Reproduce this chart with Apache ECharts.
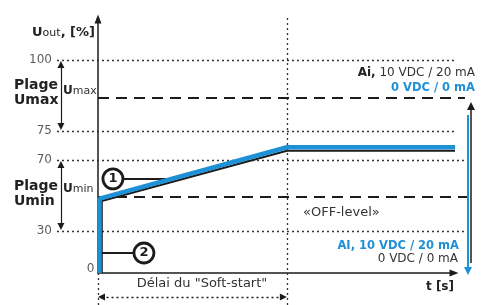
<!DOCTYPE html>
<html>
<head>
    <meta charset="utf-8" />
    <title>Soft-start</title>
    <script src="https://cdn.jsdelivr.net/npm/echarts@6/dist/echarts.min.js"></script>
    <style>
        html, body { margin: 0; padding: 0; background: #fff; }
        #main { width: 486px; height: 305px; }
    </style>
</head>
<body>
<div id="main"></div>
<script type="text/javascript">
    // niveaux de l'axe Uout [%]
    var yTicks = [0, 30, 70, 75, 100];
    var yTickLabels = ['0', '30', '70', '75', '100'];
    var uMax = 86.6;
    var uMin = 49.2;
    // temps : 0 -> fin du soft-start (1) -> fin du trace
    var tSoft = 1;
    var tEnd = 1.89;
    // courbe 1 (noir) et courbe 2 (bleu)
    var curve1 = [[0.02, 0], [0.02, 46.9], [1, 71.6], [1.89, 71.6]];
    var curve2 = [[0.008, 0], [0.008, 48.2], [1, 72.2], [1.89, 72.2]];
    var markers = [{ name: '1', value: [0.079, 59.4] }, { name: '2', value: [0.243, 14.3] }];

    var BLUE = '#1e90d6';
    var INK = '#1c1c1c';
    var FONT = '"DejaVu Sans", Verdana, sans-serif';

    // echelle schematique : hauteur (px au-dessus de l'axe t) de chaque niveau
    var levelPos = [0, 42, 113, 142, 213];

    function yPos(v) {
        var n = yTicks.length, i = 0;
        if (v > yTicks[n - 1]) i = n - 2;
        else { while (i < n - 2 && v > yTicks[i + 1]) i++; }
        var k = (levelPos[i + 1] - levelPos[i]) / (yTicks[i + 1] - yTicks[i]);
        return levelPos[i] + (v - yTicks[i]) * k;
    }
    function pt(p) { return [p[0], yPos(p[1])]; }
    function seg(a, b) { return { coords: [pt(a), pt(b)] }; }

    var gridSegs = [];
    for (var i = 1; i < yTicks.length; i++) {
        var xr = yTicks[i] >= 75 ? 1.89 : 1.94;
        gridSegs.push(seg([-0.217, yTicks[i]], [xr, yTicks[i]]));
    }
    gridSegs.push(seg([tSoft, -22.9], [tSoft, 115.8]));
    gridSegs.push(seg([0, 0], [0, -22.9]));

    var tickData = [];
    for (var j = 0; j < yTicks.length; j++) {
        if (yTicks[j] === 0) {
            tickData.push({ name: yTickLabels[j], value: [0, yPos(0)], label: { offset: [0, -4] } });
        } else {
            tickData.push({ name: yTickLabels[j], value: [-0.225, yPos(yTicks[j])] });
        }
    }

    var option = {
        backgroundColor: '#fff',
        animation: false,
        grid: { left: 98, right: 32, top: 19, bottom: 32 },
        xAxis: {
            type: 'value', min: 0, max: 1.884,
            axisLine: { show: true, symbol: ['none', 'triangle'], symbolSize: [7, 9],
                lineStyle: { color: INK, width: 1.5 } },
            axisTick: { show: false }, axisLabel: { show: false }, splitLine: { show: false }
        },
        yAxis: {
            type: 'value', min: 0, max: 254,
            axisLine: { show: true, symbol: ['none', 'triangle'], symbolSize: [7, 9],
                lineStyle: { color: INK, width: 1.5 } },
            axisTick: { show: false }, axisLabel: { show: false }, splitLine: { show: false }
        },
        series: [
            { // pointilles
                type: 'lines', coordinateSystem: 'cartesian2d', clip: false, silent: true, z: 1,
                lineStyle: { color: '#333', width: 1.3, type: [2, 3], opacity: 1 },
                data: gridSegs
            },
            { // Umax / Umin
                type: 'lines', coordinateSystem: 'cartesian2d', clip: false, silent: true, z: 2,
                lineStyle: { color: INK, width: 2, type: [11, 7], opacity: 1 },
                data: [seg([0, uMax], [1.942, uMax]), seg([0, uMin], [1.968, uMin])]
            },
            { // plages
                type: 'lines', coordinateSystem: 'cartesian2d', clip: false, silent: true, z: 2,
                symbol: ['triangle', 'triangle'], symbolSize: 7,
                lineStyle: { color: INK, width: 1.2, opacity: 1 },
                data: [seg([-0.196, 98.4], [-0.196, 76.6]), seg([-0.196, 67.5], [-0.196, 32.5])]
            },
            { // delai du soft-start
                type: 'lines', coordinateSystem: 'cartesian2d', clip: false, silent: true, z: 2,
                symbol: ['triangle', 'triangle'], symbolSize: 7,
                lineStyle: { color: INK, width: 1.3, type: [2, 3], opacity: 1 },
                data: [seg([0.0185, -17.1], [0.981, -17.1])]
            },
            {
                type: 'lines', coordinateSystem: 'cartesian2d', clip: false, silent: true, z: 2,
                symbol: ['none', 'triangle'], symbolSize: 8,
                lineStyle: { color: INK, width: 1.5, opacity: 1 },
                data: [seg([1.974, 7.1], [1.974, 83.8])]
            },
            {
                type: 'lines', coordinateSystem: 'cartesian2d', clip: false, silent: true, z: 2,
                symbol: ['none', 'triangle'], symbolSize: 8,
                lineStyle: { color: BLUE, width: 2, opacity: 1 },
                data: [seg([1.958, 80.6], [1.958, 1.4])]
            },
            { // reperes 1 et 2
                type: 'lines', coordinateSystem: 'cartesian2d', clip: false, silent: true, z: 3,
                lineStyle: { color: INK, width: 2, opacity: 1 },
                data: [seg([0.079, 59.6], [0.38, 59.6]), seg([0.02, 14.3], [0.243, 14.3])]
            },
            {
                type: 'line', data: curve1.map(pt), clip: false, silent: true, z: 4,
                symbol: 'none', lineStyle: { color: INK, width: 2 }
            },
            {
                type: 'line', data: curve2.map(pt), clip: false, silent: true, z: 5,
                symbol: 'none', lineStyle: { color: BLUE, width: 4.5 }
            },
            {
                type: 'scatter', clip: false, silent: true, z: 6,
                data: markers.map(function (m) { return { name: m.name, value: pt(m.value) }; }),
                symbolSize: 20,
                itemStyle: { color: '#fff', borderColor: INK, borderWidth: 2.8, opacity: 1 },
                label: { show: true, position: 'inside', formatter: '{b}', color: INK,
                    fontFamily: FONT, fontWeight: 'bold', fontSize: 13 }
            },
            {
                type: 'scatter', clip: false, silent: true, z: 6,
                data: tickData, symbolSize: 1,
                itemStyle: { color: 'rgba(0,0,0,0)' },
                label: { show: true, position: 'left', distance: 3, formatter: '{b}',
                    color: '#333', fontFamily: FONT, fontSize: 12 }
            }
        ],
        graphic: [
            { type: 'text', x: 95, y: 33, style: { text: '{b|U}{n|out}{b|, [%]}', align: 'right', verticalAlign: 'middle',
                rich: { b: { fontFamily: FONT, fontWeight: 'bold', fontSize: 13, fill: '#222' },
                        n: { fontFamily: FONT, fontSize: 11, fill: '#222' } } } },
            { type: 'text', x: 14, y: 93, style: { text: 'Plage\nUmax', align: 'left', verticalAlign: 'middle',
                font: 'bold 14px ' + FONT, fill: '#222', lineHeight: 15 } },
            { type: 'text', x: 14, y: 194, style: { text: 'Plage\nUmin', align: 'left', verticalAlign: 'middle',
                font: 'bold 14px ' + FONT, fill: '#222', lineHeight: 15 } },
            { type: 'text', x: 63, y: 91, style: { text: '{b|U}{n|max}', align: 'left', verticalAlign: 'middle',
                rich: { b: { fontFamily: FONT, fontWeight: 'bold', fontSize: 12, fill: '#222' },
                        n: { fontFamily: FONT, fontSize: 11, fill: '#333' } } } },
            { type: 'text', x: 63, y: 189, style: { text: '{b|U}{n|min}', align: 'left', verticalAlign: 'middle',
                rich: { b: { fontFamily: FONT, fontWeight: 'bold', fontSize: 12, fill: '#222' },
                        n: { fontFamily: FONT, fontSize: 11, fill: '#333' } } } },
            { type: 'text', x: 475, y: 73, style: { text: '{b|Ai,}{n| 10 VDC / 20 mA}', align: 'right', verticalAlign: 'middle',
                rich: { b: { fontFamily: FONT, fontWeight: 'bold', fontSize: 12, fill: '#222' },
                        n: { fontFamily: FONT, fontSize: 12, fill: '#333' } } } },
            { type: 'text', x: 475, y: 88, style: { text: '0 VDC / 0 mA', align: 'right', verticalAlign: 'middle',
                font: 'bold 11.5px ' + FONT, fill: BLUE } },
            { type: 'text', x: 303, y: 213, style: { text: '«OFF-level»', align: 'left', verticalAlign: 'middle',
                font: '13px ' + FONT, fill: '#333' } },
            { type: 'text', x: 459, y: 246, style: { text: 'AI, 10 VDC / 20 mA', align: 'right', verticalAlign: 'middle',
                font: 'bold 11.5px ' + FONT, fill: BLUE } },
            { type: 'text', x: 458, y: 259, style: { text: '0 VDC / 0 mA', align: 'right', verticalAlign: 'middle',
                font: '12px ' + FONT, fill: '#333' } },
            { type: 'text', x: 454, y: 287, style: { text: 't [s]', align: 'right', verticalAlign: 'middle',
                font: 'bold 12px ' + FONT, fill: '#222' } },
            { type: 'text', x: 202, y: 284, style: { text: 'Délai du "Soft-start"', align: 'center', verticalAlign: 'middle',
                font: '13px ' + FONT, fill: '#333' } }
        ]
    };

    var chart = echarts.init(document.getElementById('main'));
    chart.setOption(option);
</script>
</body>
</html>
